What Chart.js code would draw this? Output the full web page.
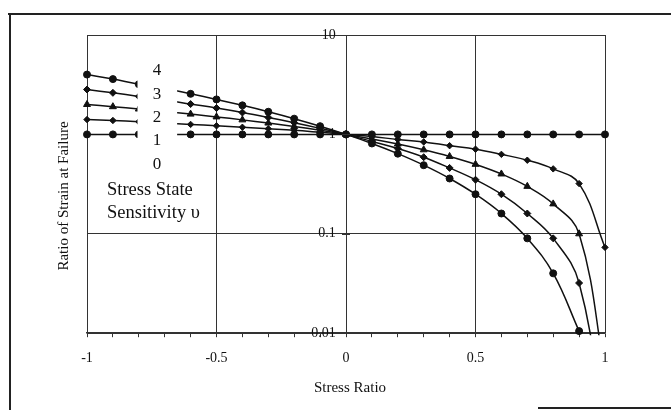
<!DOCTYPE html>
<html>
<head>
<meta charset="utf-8">
<script src="https://cdn.jsdelivr.net/npm/chart.js@4/dist/chart.umd.min.js"></script>
<style>
  html, body { margin: 0; padding: 0; background: #fff; }
  #wrap { width: 671px; height: 410px; }
</style>
</head>
<body>
<div id="wrap"><canvas id="chart" width="671" height="410"></canvas></div>
<script>
// stress ratio on the x axis, one point every 0.1
const stressRatio = [-1, -0.9, -0.8, -0.7, -0.6, -0.5, -0.4, -0.3, -0.2, -0.1, 0,
                     0.1, 0.2, 0.3, 0.4, 0.5, 0.6, 0.7, 0.8, 0.9, 1];

// ratio of strain at failure, one array per sensitivity
const ratioNu0 = [1, 1, 1, 1, 1, 1, 1, 1, 1, 1, 1, 1, 1, 1, 1, 1, 1, 1, 1, 1, 1];
const ratioNu1 = [1.41, 1.38, 1.34, 1.30, 1.26, 1.22, 1.18, 1.14, 1.10, 1.05, 1.00,
                  0.95, 0.89, 0.84, 0.77, 0.71, 0.63, 0.55, 0.45, 0.32, 0.073];
const ratioNu2 = [2.0, 1.9, 1.8, 1.7, 1.6, 1.5, 1.4, 1.3, 1.2, 1.1, 1.0,
                  0.9, 0.8, 0.7, 0.6, 0.5, 0.4, 0.3, 0.2, 0.1, 0.004];
const ratioNu3 = [2.83, 2.62, 2.41, 2.22, 2.02, 1.84, 1.66, 1.48, 1.31, 1.15, 1.0,
                  0.85, 0.72, 0.59, 0.46, 0.35, 0.25, 0.16, 0.09, 0.032, 0.001];
const ratioNu4 = [4.0, 3.6, 3.2, 2.9, 2.56, 2.25, 1.96, 1.69, 1.44, 1.21, 1.0,
                  0.81, 0.64, 0.49, 0.36, 0.25, 0.16, 0.09, 0.04, 0.0105, null];

const xLabelValues = [-1, -0.5, 0, 0.5, 1];
const xTickLabels = ["-1", "-0.5", "0", "0.5", "1"];
const yTickValues = [0.01, 0.1, 1, 10];
const yTickLabels = ["0.01", "0.1", "1", "10"];

const legendLabels = ["4", "3", "2", "1", "0"];
const legendTitle = ["Stress State", "Sensitivity \u03c5"];
const xTitle = "Stress Ratio";
const yTitle = "Ratio of Strain at Failure";

const serif = '"Liberation Serif", "Times New Roman", serif';
const ink = "#111";
const gridInk = "#333";

function toPoints(values) {
    return stressRatio.map((x, i) => ({ x: x, y: values[i] }));
}

function isLabelled(value) {
    return xLabelValues.findIndex(v => Math.abs(v - value) < 1e-9);
}

function series(values, style, radius) {
    return {
        data: toPoints(values),
        borderColor: ink,
        backgroundColor: ink,
        borderWidth: 1.5,
        pointStyle: style,
        pointRadius: radius,
        pointBorderWidth: 1,
        pointBackgroundColor: ink,
        pointBorderColor: ink,
        tension: 0.4,
        clip: { left: 6, right: 6, top: 6, bottom: 2 }
    };
}

const overlay = {
    id: "overlay",
    afterDatasetsDraw(chart) {
        const { ctx, scales: { x } } = chart;
        const left = x.getPixelForValue(-0.805);
        const right = x.getPixelForValue(-0.652);
        ctx.save();
        // white text box sitting on top of the curves
        ctx.fillStyle = "#fff";
        ctx.fillRect(left, 56, right - left, 120);
        ctx.fillStyle = ink;
        ctx.font = "17px " + serif;
        ctx.textAlign = "center";
        ctx.textBaseline = "middle";
        legendLabels.forEach((t, i) => ctx.fillText(t, 157, 71 + i * 23.3));
        ctx.font = "18.5px " + serif;
        ctx.textAlign = "left";
        ctx.textBaseline = "alphabetic";
        ctx.fillText(legendTitle[0], 107, 195);
        ctx.fillText(legendTitle[1], 107, 218);

        // small cross ticks on the value axis at x = 0
        const y = chart.scales.y;
        const x0 = x.getPixelForValue(0);
        ctx.strokeStyle = gridInk;
        ctx.lineWidth = 1;
        ctx.beginPath();
        yTickValues.forEach(v => {
            const py = Math.round(y.getPixelForValue(v)) + 0.5;
            ctx.moveTo(x0 - 4, py);
            ctx.lineTo(x0 + 4, py);
        });
        ctx.stroke();
        ctx.restore();
    },
    afterDraw(chart) {
        const ctx = chart.ctx;
        ctx.save();
        ctx.fillStyle = ink;
        ctx.font = "15px " + serif;
        ctx.textAlign = "center";
        ctx.textBaseline = "middle";
        ctx.fillText(xTitle, 350, 388);
        ctx.translate(64, 196);
        ctx.rotate(-Math.PI / 2);
        ctx.fillText(yTitle, 0, 0);
        ctx.restore();

        // outer frame of the figure
        ctx.save();
        ctx.strokeStyle = "#222";
        ctx.lineWidth = 2;
        ctx.beginPath();
        ctx.moveTo(8, 14); ctx.lineTo(671, 14);
        ctx.moveTo(10, 14); ctx.lineTo(10, 410);
        ctx.moveTo(538, 408); ctx.lineTo(671, 408);
        ctx.stroke();
        ctx.restore();
    }
};

new Chart(document.getElementById("chart"), {
    type: "line",
    data: {
        datasets: [
            series(ratioNu4, "circle", 3.5),
            series(ratioNu3, "rectRot", 3.5),
            series(ratioNu2, "triangle", 4),
            series(ratioNu1, "rectRot", 3.2),
            series(ratioNu0, "circle", 3.5)
        ]
    },
    options: {
        responsive: false,
        animation: false,
        layout: { padding: { left: 87, right: 66, top: 35, bottom: 30 } },
        plugins: {
            legend: { display: false },
            tooltip: { enabled: false }
        },
        scales: {
            x: {
                type: "linear",
                min: -1,
                max: 1,
                afterBuildTicks: scale => {
                    scale.ticks = stressRatio.map(v => ({ value: v }));
                },
                ticks: {
                    autoSkip: false,
                    maxRotation: 0,
                    padding: 13,
                    color: ink,
                    font: { family: serif, size: 14 },
                    callback: value => {
                        const i = isLabelled(value);
                        return i >= 0 ? xTickLabels[i] : "";
                    }
                },
                grid: {
                    color: c => (c.tick && isLabelled(c.tick.value) >= 0 ? gridInk : "rgba(0,0,0,0)"),
                    tickColor: gridInk,
                    tickLength: 4,
                    lineWidth: 1
                },
                border: { color: gridInk, width: 1.5 }
            },
            y: {
                type: "logarithmic",
                min: 0.01,
                max: 10,
                // labels sit just left of the x = 0 line
                position: { x: -0.04 },
                afterBuildTicks: scale => {
                    scale.ticks = yTickValues.map(v => ({ value: v, major: true }));
                },
                ticks: {
                    color: ink,
                    font: { family: serif, size: 14 },
                    callback: (value, index) => yTickLabels[index]
                },
                grid: {
                    color: gridInk,
                    drawTicks: false,
                    lineWidth: 1
                },
                border: { display: false }
            }
        }
    },
    plugins: [overlay]
});
</script>
</body>
</html>
